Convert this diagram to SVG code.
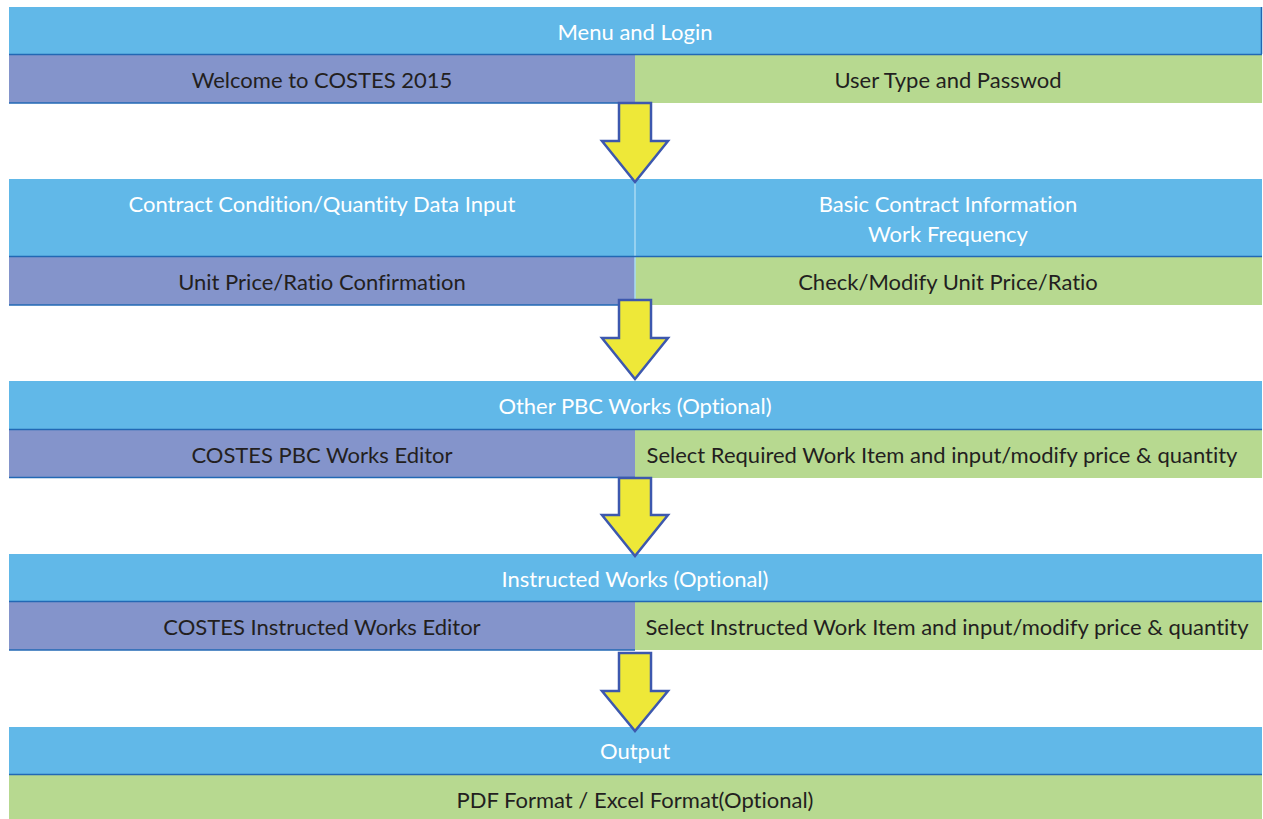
<svg xmlns="http://www.w3.org/2000/svg" width="1263" height="819" viewBox="0 0 1263 819">
<defs>
<style>
.bar{fill:#61B8E8}
.pur{fill:#8494CB}
.grn{fill:#B7D990}
.sep{stroke:#2268B4;stroke-width:1.5;fill:none}
.div{stroke:#A9DAF3;stroke-width:1.5}
.arrow{fill:#EEE838;stroke:#3D58AE;stroke-width:2.5;stroke-linejoin:miter}
text{font-family:Lato,"Liberation Sans",sans-serif;font-size:22px;text-anchor:middle;dominant-baseline:central;font-variant-ligatures:none}
.w{fill:#FFFFFF}
.d{fill:#231F20}
</style>
</defs>
<rect width="1263" height="819" fill="#FFFFFF"/>

<g id="block1">
<rect class="bar" x="9" y="7" width="1253" height="47"/>
<rect class="pur" x="9" y="55" width="626" height="48"/>
<rect class="grn" x="635" y="55" width="627" height="48"/>
<line class="sep" x1="9" y1="54.5" x2="1262" y2="54.5"/>
<line class="sep" x1="9" y1="103" x2="635" y2="103"/>
<line class="sep" x1="1261.5" y1="7" x2="1261.5" y2="54"/>
<text class="w" x="635" y="31">Menu and Login</text>
<text class="d" x="322" y="79">Welcome to COSTES 2015</text>
<text class="d" x="948" y="79">User Type and Passwod</text>
</g>

<g id="block2">
<rect class="bar" x="9" y="179" width="1253" height="77"/>
<rect class="pur" x="9" y="257" width="626" height="48"/>
<rect class="grn" x="635" y="257" width="627" height="48"/>
<line class="div" x1="635" y1="179" x2="635" y2="305"/>
<line class="sep" x1="9" y1="256.5" x2="1262" y2="256.5"/>
<line class="sep" x1="9" y1="305" x2="635" y2="305"/>
<text class="w" x="322" y="203">Contract Condition/Quantity Data Input</text>
<text class="w" x="948" y="203">Basic Contract Information</text>
<text class="w" x="948" y="233">Work Frequency</text>
<text class="d" x="322" y="281">Unit Price/Ratio Confirmation</text>
<text class="d" x="948" y="281">Check/Modify Unit Price/Ratio</text>
</g>

<g id="block3">
<rect class="bar" x="9" y="381" width="1253" height="48"/>
<rect class="pur" x="9" y="430" width="626" height="48"/>
<rect class="grn" x="635" y="430" width="627" height="48"/>
<line class="sep" x1="9" y1="429.5" x2="1262" y2="429.5"/>
<line class="sep" x1="9" y1="477.5" x2="635" y2="477.5"/>
<text class="w" x="635" y="405">Other PBC Works (Optional)</text>
<text class="d" x="322" y="454">COSTES PBC Works Editor</text>
<text class="d" x="942" y="454">Select Required Work Item and input/modify price &amp; quantity</text>
</g>

<g id="block4">
<rect class="bar" x="9" y="554" width="1253" height="48"/>
<rect class="pur" x="9" y="602" width="626" height="48"/>
<rect class="grn" x="635" y="602" width="627" height="48"/>
<line class="sep" x1="9" y1="601.5" x2="1262" y2="601.5"/>
<line class="sep" x1="9" y1="650" x2="635" y2="650"/>
<text class="w" x="635" y="578">Instructed Works (Optional)</text>
<text class="d" x="322" y="626">COSTES Instructed Works Editor</text>
<text class="d" x="947" y="626">Select Instructed Work Item and input/modify price &amp; quantity</text>
</g>

<g id="block5">
<rect class="bar" x="9" y="727" width="1253" height="47"/>
<rect class="grn" x="9" y="775" width="1253" height="44"/>
<line class="sep" x1="9" y1="774.5" x2="1262" y2="774.5"/>
<text class="w" x="635" y="750">Output</text>
<text class="d" x="635" y="799">PDF Format / Excel Format(Optional)</text>
</g>

<g id="connectors">
<polygon class="arrow" points="619,103 651,103 651,141 668,141 635,182 602,141 619,141"/>
<polygon class="arrow" points="619,300 651,300 651,338 668,338 635,379 602,338 619,338"/>
<polygon class="arrow" points="619,478 651,478 651,515 668,515 635,556 602,515 619,515"/>
<polygon class="arrow" points="619,653 651,653 651,691 668,691 635,731 602,691 619,691"/>
</g>
</svg>
